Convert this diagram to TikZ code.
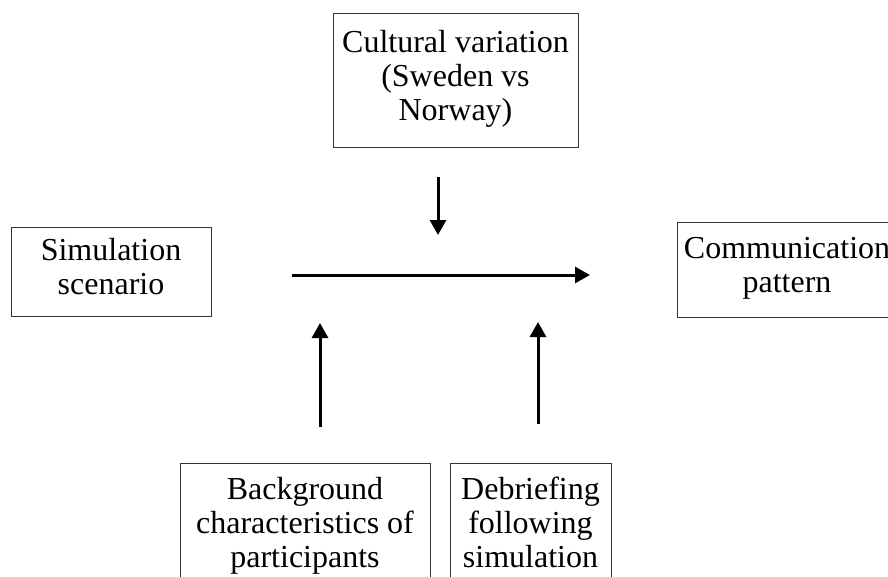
\documentclass[tikz,border=0pt]{standalone}
\usepackage{fontspec}
\setmainfont{Liberation Serif}
\usetikzlibrary{arrows.meta}
\begin{document}
\begin{tikzpicture}[
    x=1pt, y=-1pt,
    every node/.style={inner sep=0pt, align=center, font=\fontsize{32}{34}\selectfont,
        execute at begin node=\rule{0pt}{30pt}, execute at end node=\strut},
    box/.style={draw=black!80, line width=1pt},
    flow/.style={line width=3pt, -{Triangle[length=15pt, width=16pt]}}
]
\useasboundingbox (0,0) rectangle (888,576);
\clip (0,0) rectangle (888,576);
\node[box, minimum width=245pt, minimum height=134pt] (culture) at (455.5,80)
    {Cultural variation\\(Sweden vs\\Norway)};
\node[box, minimum width=200pt, minimum height=89pt] (scenario) at (111,271.5)
    {Simulation\\scenario};
\node[box, minimum width=220pt, minimum height=95pt] (pattern) at (787,269.5)
    {Communication\\pattern};
\node[box, minimum width=250pt, minimum height=128pt] (background) at (305,527)
    {Background\\characteristics of\\participants};
\node[box, minimum width=161pt, minimum height=128pt] (debrief) at (530.5,527)
    {Debriefing\\following\\simulation};
% free arrow ends
\coordinate (modtop) at (438,177);
\coordinate (modtip) at (438,235);
\coordinate (mainstart) at (292,275);
\coordinate (mainend) at (590,275);
\coordinate (bgstart) at (320,427);
\coordinate (bgtip) at (320,323);
\coordinate (dbstart) at (538,424);
\coordinate (dbtip) at (538,322);
\draw[flow] (modtop) -- (modtip);
\draw[flow] (mainstart) -- (mainend);
\draw[flow] (bgstart) -- (bgtip);
\draw[flow] (dbstart) -- (dbtip);
\end{tikzpicture}
\end{document}
